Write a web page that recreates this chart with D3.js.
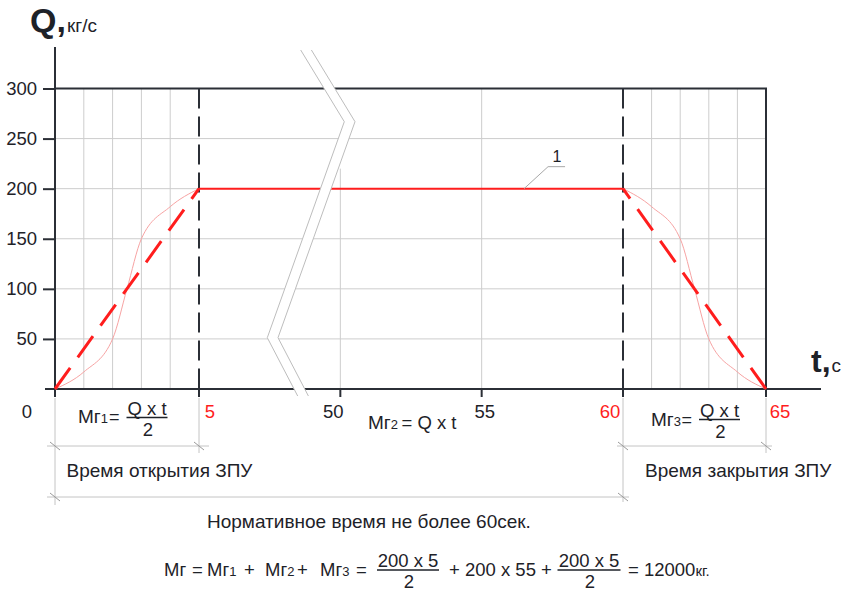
<!DOCTYPE html>
<html>
<head>
<meta charset="utf-8">
<script src="https://cdn.jsdelivr.net/npm/d3@7"></script>
<style>
  body { margin: 0; background: #fff; }
  text { font-family: "Liberation Sans", Arial, sans-serif; fill: #1e2228; }
</style>
</head>
<body>
<div id="container"></div>
<script>
// data
let yTicks = [50, 100, 150, 200, 250, 300];
let xTicks = [0, 5, 50, 55, 60, 65];
let redTicks = [5, 60, 65];

let flowT = [0, 5, 60, 65];
let flowQ = [0, 200, 200, 0];

let openT = [0, 1, 2, 2.5, 3, 4, 5];
let openQ = [0, 17, 50, 100, 150, 182, 200];
let closeT = [60, 61, 62, 62.5, 63, 64, 65];
let closeQ = [200, 182, 150, 100, 50, 17, 0];

let gridT = [1, 2, 3, 4, 55, 61, 62, 63, 64];

let w = 857;
let h = 598;
let red = "#ff1d1d";
let ink = "#1e2228";
let dark = "#2b2f36";
let grey = "#cdcdcd";

let viz = d3.select("#container")
  .append("svg")
    .attr("width", w)
    .attr("height", h)
;

// broken time axis: 5..45 collapsed
let x = d3.scaleLinear()
    .domain([0, 5, 45, 60, 65])
    .range([55, 199, 199, 623, 766])
;
let y = d3.scaleLinear()
    .domain([0, 300])
    .range([389, 88.5])
;

// grid
viz.selectAll(".hgrid").data(yTicks.slice(0, -1)).enter()
  .append("line")
    .attr("x1", x(0)).attr("x2", x(65))
    .attr("y1", d => y(d)).attr("y2", d => y(d))
    .attr("stroke", grey).attr("stroke-width", 1)
;
viz.selectAll(".vgrid").data(gridT).enter()
  .append("line")
    .attr("x1", d => x(d)).attr("x2", d => x(d))
    .attr("y1", y(300)).attr("y2", y(0))
    .attr("stroke", grey).attr("stroke-width", 1)
;
viz.append("line")
    .attr("x1", x(50)).attr("x2", x(50))
    .attr("y1", y(220)).attr("y2", y(0))
    .attr("stroke", grey).attr("stroke-width", 1)
;

// frame
viz.append("path")
    .attr("d", d3.line()([[x(0), y(300)], [x(65), y(300)], [x(65), y(0)]]))
    .attr("fill", "none").attr("stroke", dark).attr("stroke-width", 2)
;

// y axis
let yAxis = viz.append("g")
    .attr("transform", "translate(" + x(0) + ",0)")
    .call(d3.axisLeft(y).tickValues(yTicks).tickSize(12).tickPadding(6))
;
yAxis.select(".domain").remove();
yAxis.selectAll(".tick line").attr("stroke", dark).attr("stroke-width", 2);
yAxis.selectAll(".tick text")
    .attr("font-size", 18.5)
    .attr("font-family", "Liberation Sans, Arial, sans-serif")
    .attr("fill", d => d === 200 ? red : ink)
;
viz.append("line")
    .attr("x1", x(0)).attr("x2", x(0))
    .attr("y1", 47).attr("y2", y(0) + 8)
    .attr("stroke", dark).attr("stroke-width", 2)
;

// x axis
viz.append("line")
    .attr("x1", x(0) - 10).attr("x2", 821)
    .attr("y1", y(0)).attr("y2", y(0))
    .attr("stroke", dark).attr("stroke-width", 2)
;
viz.selectAll(".xtick").data(xTicks.slice(1)).enter()
  .append("line")
    .attr("x1", d => x(d)).attr("x2", d => x(d))
    .attr("y1", y(0)).attr("y2", y(0) + 8)
    .attr("stroke", dark).attr("stroke-width", 2)
;
let nudge = {0: -28, 5: 11, 50: -7, 55: 3, 60: -13, 65: 14};
viz.selectAll(".xlabel").data(xTicks).enter()
  .append("text")
    .attr("x", d => x(d) + nudge[d])
    .attr("y", 418)
    .attr("text-anchor", "middle")
    .attr("font-size", 18.5)
    .style("fill", d => redTicks.includes(d) ? red : ink)
    .text(d => d)
;

// dashed verticals at 5 and 60
viz.selectAll(".vdash").data([5, 60]).enter()
  .append("line")
    .attr("x1", d => x(d)).attr("x2", d => x(d))
    .attr("y1", y(300)).attr("y2", y(0) + 8)
    .attr("stroke", dark).attr("stroke-width", 2)
    .attr("stroke-dasharray", "20,8")
;

// real flow curves (thin)
let curve = d3.line()
    .x(d => x(d[0])).y(d => y(d[1]))
    .curve(d3.curveMonotoneX)
;
viz.append("path")
    .attr("d", curve(d3.zip(openT, openQ)))
    .attr("fill", "none").attr("stroke", "#f7a3a3").attr("stroke-width", 1)
;
viz.append("path")
    .attr("d", curve(d3.zip(closeT, closeQ)))
    .attr("fill", "none").attr("stroke", "#f7a3a3").attr("stroke-width", 1)
;

// idealised flow
let flow = d3.zip(flowT, flowQ);
let seg = d3.line().x(d => x(d[0])).y(d => y(d[1]));
viz.append("path")
    .attr("d", seg(flow.slice(0, 2)))
    .attr("stroke", red).attr("stroke-width", 3)
    .attr("stroke-dasharray", "26,13")
;
viz.append("path")
    .attr("d", seg([flow[3], flow[2]]))
    .attr("stroke", red).attr("stroke-width", 3)
    .attr("stroke-dasharray", "26,13")
;
viz.append("path")
    .attr("d", seg(flow.slice(1, 3)))
    .attr("stroke", red).attr("stroke-width", 2)
;

// axis break
let breakL = [[300.7, 50], [344.3, 121.7], [267.3, 337.7], [297.7, 396]];
let breakR = breakL.map(p => [p[0] + 10.7, p[1]]);
viz.append("path")
    .attr("d", d3.line()(breakL.concat(breakR.slice().reverse())) + "Z")
    .attr("fill", "#fff")
;
[breakL, breakR].forEach(pts => {
  viz.append("path")
      .attr("d", d3.line()(pts))
      .attr("fill", "none").attr("stroke", "#bdbdbd").attr("stroke-width", 1)
  ;
});

// leader "1"
let lx = x(56.5), ly = y(200);
viz.append("path")
    .attr("d", d3.line()([[lx, ly], [lx + 24, ly - 22], [lx + 41, ly - 22]]))
    .attr("fill", "none").attr("stroke", "#a8a8a8").attr("stroke-width", 1)
;
viz.append("text")
    .attr("x", lx + 33).attr("y", ly - 27)
    .attr("text-anchor", "middle").attr("font-size", 16)
    .text("1")
;

// axis titles
let qt = viz.append("text").attr("x", 30).attr("y", 32);
qt.append("tspan").attr("font-size", 34).attr("font-weight", "bold").text("Q,");
qt.append("tspan").attr("font-size", 19).attr("dx", 1).text("кг/с");
let tt = viz.append("text").attr("x", 811).attr("y", 372);
tt.append("tspan").attr("font-size", 32).attr("font-weight", "bold").text("t,");
tt.append("tspan").attr("font-size", 19).attr("dx", 1).text("с");

// dimension lines
let dimGrey = "#c4c4c4";
let ext = [[0, 505], [5, 453], [60, 502], [65, 453]];
ext.forEach(e => {
  viz.append("line")
      .attr("x1", x(e[0])).attr("x2", x(e[0]))
      .attr("y1", y(0) + 9).attr("y2", e[1])
      .attr("stroke", dimGrey).attr("stroke-width", 1)
  ;
});
let dims = [[0, 5, 446, -8, 10], [0, 60, 497, -8, 6], [60, 65, 446, -6, 6]];
dims.forEach(d => {
  viz.append("line")
      .attr("x1", x(d[0]) + d[3]).attr("x2", x(d[1]) + d[4])
      .attr("y1", d[2]).attr("y2", d[2])
      .attr("stroke", dimGrey).attr("stroke-width", 1)
  ;
  [d[0], d[1]].forEach(t => {
    viz.append("line")
        .attr("x1", x(t) - 5).attr("x2", x(t) + 5)
        .attr("y1", d[2] - 4).attr("y2", d[2] + 4)
        .attr("stroke", "#9a9a9a").attr("stroke-width", 1)
    ;
  });
});

// formulas: pieces are [text, x or null (follow on), font-size]
function line(py, pieces) {
  let t = viz.append("text").attr("y", py);
  pieces.forEach(p => {
    let s = t.append("tspan").attr("font-size", p[2]).text(p[0]);
    if (p[1] !== null) s.attr("x", p[1]);
  });
}
function frac(cx, py, top, bottom, half, size) {
  viz.append("text").attr("x", cx).attr("y", py - 3)
      .attr("text-anchor", "middle").attr("font-size", size).text(top);
  viz.append("line")
      .attr("x1", cx - half).attr("x2", cx + half)
      .attr("y1", py).attr("y2", py)
      .attr("stroke", ink).attr("stroke-width", 1.4)
  ;
  viz.append("text").attr("x", cx + 1).attr("y", py + 18)
      .attr("text-anchor", "middle").attr("font-size", size).text(bottom);
}

line(423, [["Мг", 78, 19], ["1", null, 13], ["=", 109, 18]]);
frac(147, 417.5, "Q x t", "2", 20.5, 18.5);
line(429, [["Мг", 368, 19], ["2", null, 13], ["= Q x t", 401.5, 18.5]]);
line(426, [["Мг", 651, 19], ["3", null, 13], ["=", 681.5, 18]]);
frac(719.5, 419.5, "Q x t", "2", 20.5, 18.5);

viz.append("text").attr("x", 66.5).attr("y", 477).attr("font-size", 19)
    .text("Время открытия ЗПУ");
viz.append("text").attr("x", 645).attr("y", 477).attr("font-size", 19)
    .text("Время закрытия ЗПУ");
viz.append("text").attr("x", 207).attr("y", 528).attr("font-size", 19)
    .text("Нормативное время не более 60сек.");

line(576, [
  ["Мг", 164, 18.5], ["=", 192, 18.5],
  ["Мг", 207, 18.5], ["1", null, 13], ["+", 244, 18.5],
  ["Мг", 265, 18.5], ["2", null, 13], ["+", 297, 18.5],
  ["Мг", 320, 18.5], ["3", null, 13], ["=", 356, 18.5]
]);
frac(408, 570, "200 x 5", "2", 31, 18.5);
viz.append("text").attr("x", 449).attr("y", 576).attr("font-size", 18.5)
    .text("+ 200 x 55 +");
frac(589, 570, "200 x 5", "2", 31.5, 18.5);
line(576, [["= 12000", 628, 18.5], ["кг.", null, 15]]);
</script>
</body>
</html>
